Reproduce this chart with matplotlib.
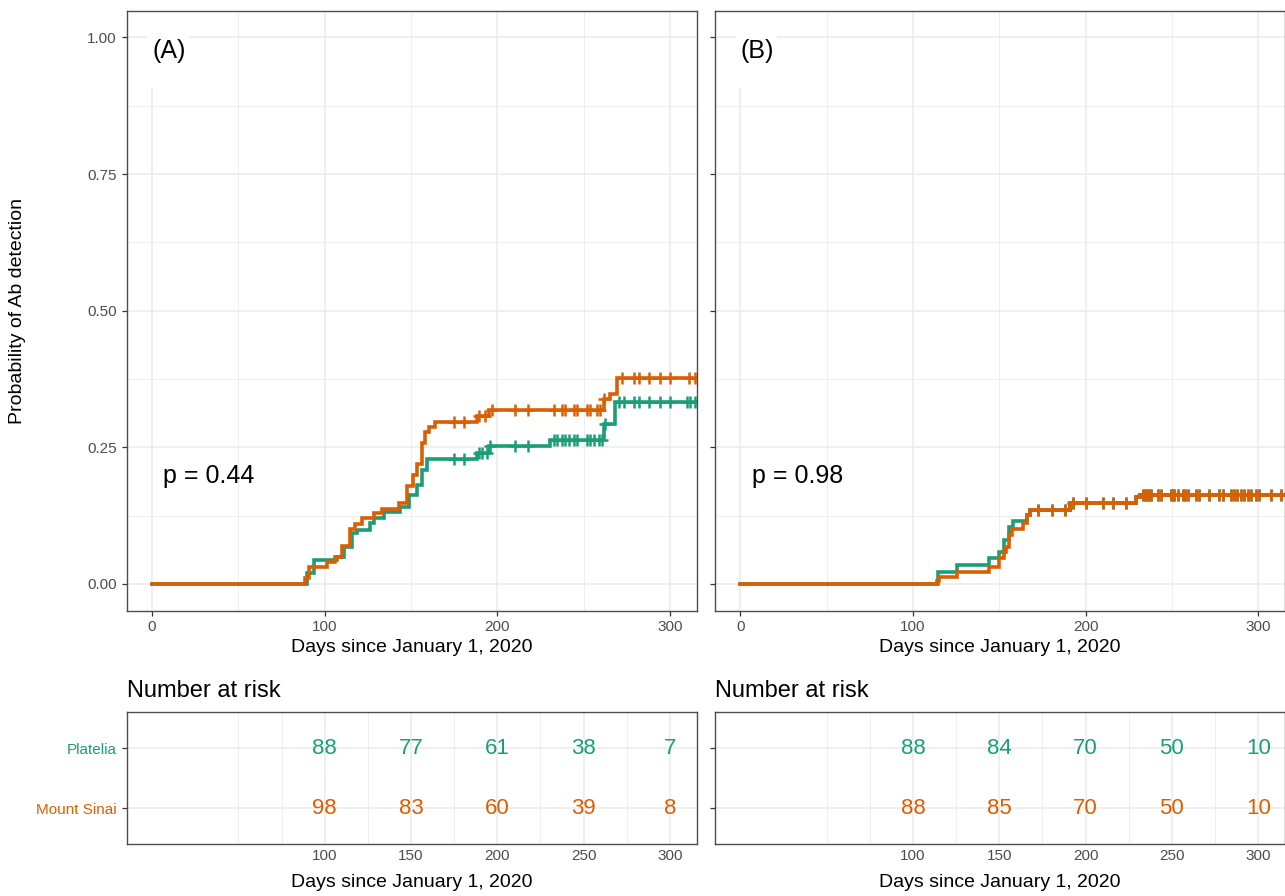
import numpy as np
import matplotlib
matplotlib.use("Agg")
import matplotlib.pyplot as plt
from matplotlib.patches import Rectangle

plt.rcParams['font.family'] = ['Liberation Sans', 'DejaVu Sans']

# ---------------- data ----------------
groups = ["Platelia", "Mount Sinai"]
colors = {"Platelia": "#1B9E77", "Mount Sinai": "#D95F02"}

# Panel A - event times (days) and cumulative probability after each event
A_plat_t = [89.8, 94.0, 107.2, 111.0, 115.9, 118.8, 126.5, 128.4, 134.2, 143.9, 148.7, 153.5,
            156.4, 159.3, 188.3, 195.0, 230.8, 261.6, 268.4]
A_plat_p = [0.0195, 0.044, 0.050, 0.068, 0.0925, 0.0985, 0.111, 0.120, 0.132, 0.141, 0.162, 0.181,
            0.208, 0.229, 0.2396, 0.2518, 0.264, 0.293, 0.333]
A_plat_cens = [174.7, 180.5, 189.2, 191.2, 194.1, 196.0, 210.5, 217.6, 232.7, 234.6, 237.5, 239.5,
               241.4, 244.3, 246.2, 252.0, 253.9, 255.9, 258.7, 260.7, 262.6, 270.3, 273.2, 279.0,
               281.9, 287.7, 294.5, 300.3, 310.0, 311.9, 314.8]

A_ms_t = [88.8, 90.7, 101.4, 106.2, 110.1, 114.9, 117.8, 121.7, 128.4, 133.3, 142.9, 147.7, 151.2,
          153.5, 156.4, 158.3, 160.3, 164.1, 188.3, 195.0, 261.6, 265.5, 269.4]
A_ms_p = [0.010, 0.0316, 0.0407, 0.050, 0.069, 0.0998, 0.1095, 0.120, 0.129, 0.138, 0.148, 0.179,
          0.199, 0.220, 0.257, 0.278, 0.287, 0.296, 0.3066, 0.3175, 0.339, 0.348, 0.376]
A_ms_cens = [174.7, 180.5, 189.2, 193.1, 196.9, 210.5, 217.6, 232.7, 237.5, 239.5, 244.3, 246.2,
             252.0, 253.9, 257.8, 259.7, 261.6, 272.3, 279.0, 281.9, 287.7, 294.5, 300.3, 311.0, 314.8]

# Panel B
B_plat_t = [114.5, 125.5, 143.8, 149.6, 152.5, 155.4, 158.2, 165.9, 167.9, 190.9, 229.4, 231.3]
B_plat_p = [0.0225, 0.0347, 0.0468, 0.059, 0.080, 0.1034, 0.115, 0.126, 0.136, 0.148, 0.159, 0.1636]
B_ms_t = [114.0, 115.0, 125.5, 143.8, 149.6, 152.5, 153.8, 155.4, 157.3, 164.0, 165.9, 167.9,
          190.9, 229.4, 231.3]
B_ms_p = [0.006, 0.0134, 0.0225, 0.0316, 0.0468, 0.059, 0.068, 0.089, 0.0998, 0.112, 0.126, 0.136,
          0.148, 0.159, 0.1636]
B_cens = [172.7, 180.3, 188.1, 192.9, 200.5, 210.2, 216.0, 223.6, 233.2, 234.5, 235.5, 236.5, 238.0,
          241.8, 243.7, 249.5, 250.5, 251.5, 253.4, 256.3, 257.5, 259.2, 264.0, 265.9, 271.7, 277.5,
          279.4, 284.1, 286.1, 288.0, 290.0, 292.0, 293.9, 295.7, 298.6, 300.5, 307.2, 313.0]

pvals = ["p = 0.44", "p = 0.98"]
panel_tags = ["(A)", "(B)"]

risk_times = [100, 150, 200, 250, 300]
A_risk_plat = [88, 77, 61, 38, 7]
A_risk_ms = [98, 83, 60, 39, 8]
B_risk_plat = [88, 84, 70, 50, 10]
B_risk_ms = [88, 85, 70, 50, 10]

t_end = 330.0

# ---------------- layout ----------------
W, H = 1285, 896
fig = plt.figure(figsize=(W / 100, H / 100), dpi=100)


def px_axes(left, top, right, bottom):
    return fig.add_axes([left / W, 1 - bottom / H, (right - left) / W, (bottom - top) / H])


XLIM = (-14.7, 315.7)
GRID = "#EBEBEB"
SPINE = "#4D4D4D"
TICKC = "#4D4D4D"


def style(ax):
    for s in ax.spines.values():
        s.set_color(SPINE)
        s.set_linewidth(1.0)
    ax.tick_params(axis="both", colors="#333333", labelcolor=TICKC, length=3.5, width=0.9,
                   labelsize=11, pad=3.5)
    ax.set_axisbelow(True)


def km_panel(ax, tA, pA, censA, tB, pB, censB, tag, pval, show_ylabels):
    style(ax)
    ax.set_xlim(*XLIM)
    ax.set_ylim(-0.049, 1.049)
    ax.set_xticks([0, 100, 200, 300])
    ax.set_xticks([50, 150, 250], minor=True)
    ax.set_yticks([0, 0.25, 0.5, 0.75, 1.0])
    ax.set_yticks([0.125, 0.375, 0.625, 0.875], minor=True)
    ax.tick_params(which="minor", length=0)
    ax.grid(which="major", color=GRID, lw=1.1)
    ax.grid(which="minor", color=GRID, lw=0.6)
    if show_ylabels:
        ax.set_yticklabels(["0.00", "0.25", "0.50", "0.75", "1.00"])
    else:
        ax.set_yticklabels([])
    for t, p, cens, g in [(tA, pA, censA, groups[0]), (tB, pB, censB, groups[1])]:
        tt = np.concatenate([[0.0], t, [t_end]])
        pp = np.concatenate([[0.0], p, [p[-1]]])
        ax.step(tt, pp, where="post", color=colors[g], lw=2.6, solid_joinstyle="miter")
        idx = np.searchsorted(tt, cens, side="right") - 1
        ax.plot(cens, pp[idx], ls="none", marker="+", ms=9, mew=1.8, color=colors[g])
    # panel tag with white label box
    ax.add_patch(Rectangle((-2.8, 0.908), 24.0, 0.14, facecolor="white", edgecolor="none", zorder=1.5))
    ax.text(0, 0.975, tag, ha="left", va="center", fontsize=18, zorder=3)
    ax.text(6.6, 0.198, pval, ha="left", va="center", fontsize=18, zorder=3)
    ax.set_xlabel("Days since January 1, 2020", fontsize=14)
    ax.xaxis.label.set_va("center")
    ax.xaxis.set_label_coords(0.5, -(648 - 610.7) / 600)


def risk_panel(ax, plat, ms, show_ylabels):
    style(ax)
    ax.set_xlim(*XLIM)
    ax.set_ylim(0.4, 2.6)
    ax.set_xticks(risk_times)
    ax.set_xticks([50, 75, 125, 175, 225, 275], minor=True)
    ax.tick_params(axis="x", which="major", length=0)
    ax.tick_params(which="minor", length=0)
    ax.grid(which="major", color=GRID, lw=1.1)
    ax.grid(which="minor", axis="x", color=GRID, lw=0.6)
    ax.set_yticks([1, 2])
    if show_ylabels:
        ax.set_yticklabels([groups[1], groups[0]], fontsize=11)
        for lab, g in zip(ax.get_yticklabels(), [groups[1], groups[0]]):
            lab.set_color(colors[g])
    else:
        ax.set_yticklabels([])
    for x, v in zip(risk_times, plat):
        ax.text(x, 2, str(v), ha="center", va="center", fontsize=16, color=colors[groups[0]])
    for x, v in zip(risk_times, ms):
        ax.text(x, 1, str(v), ha="center", va="center", fontsize=16, color=colors[groups[1]])
    ax.text(0.0, 1 + (712.3 - 691) / 131.7, "Number at risk", transform=ax.transAxes,
            ha="left", va="center", fontsize=17)
    ax.set_xlabel("Days since January 1, 2020", fontsize=14)
    ax.xaxis.label.set_va("center")
    ax.xaxis.set_label_coords(0.5, -(882 - 844) / 131.7)


axA = px_axes(126.7, 10.7, 697.0, 610.7)
axB = px_axes(715.0, 10.7, 1285.3, 610.7)
tabA = px_axes(126.7, 712.3, 697.0, 844.0)
tabB = px_axes(715.0, 712.3, 1285.3, 844.0)

km_panel(axA, A_plat_t, A_plat_p, A_plat_cens, A_ms_t, A_ms_p, A_ms_cens,
         panel_tags[0], pvals[0], True)
km_panel(axB, B_plat_t, B_plat_p, B_cens, B_ms_t, B_ms_p, B_cens,
         panel_tags[1], pvals[1], False)
axA.set_ylabel("Probability of Ab detection", fontsize=14)
axA.yaxis.label.set_va("center")
axA.yaxis.set_label_coords((18 - 126.7) / 570.3, 0.5)

risk_panel(tabA, A_risk_plat, A_risk_ms, True)
risk_panel(tabB, B_risk_plat, B_risk_ms, False)

fig.savefig("out.png", dpi=100)
